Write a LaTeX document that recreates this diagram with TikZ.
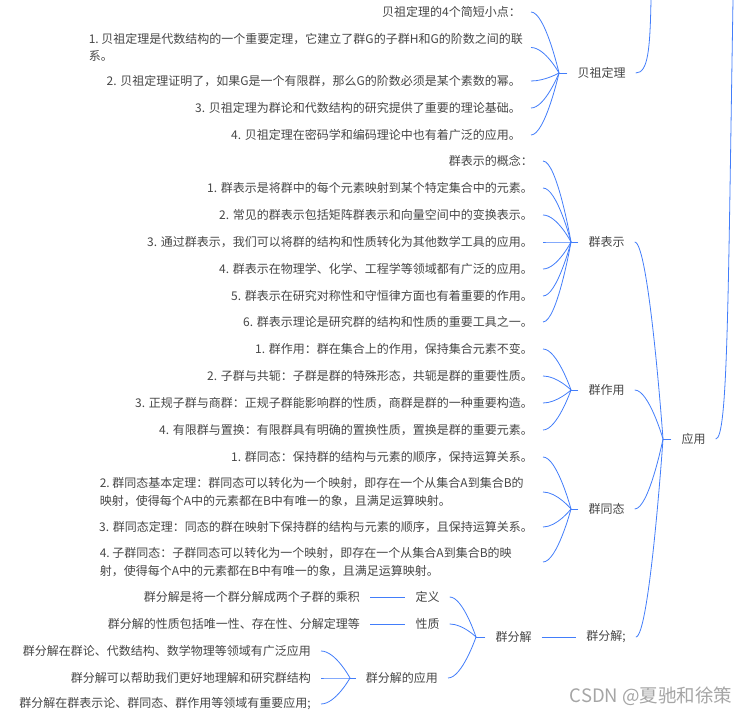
\documentclass[tikz,border=0pt]{standalone}
\usepackage{fontspec}
\setmainfont{Noto Sans CJK SC}
\usetikzlibrary{calc}
\definecolor{lineblue}{RGB}{66,125,250}
\definecolor{txtgray}{RGB}{70,70,70}
\definecolor{wmgray}{RGB}{165,165,165}
\newcommand\brconn[2]{\draw[conn] let \p1=(#1), \p2=(#2) in (\p1) .. controls ({0.5*\x1+0.5*\x2},\y1) and (\p2) .. (\p2);}
\begin{document}
\begin{tikzpicture}[x=1pt,y=-1pt,
  txt/.style={font=\fontsize{12}{17.5}\selectfont, text=txtgray, inner xsep=10pt, inner ysep=2pt},
  leaf/.style={txt, anchor=east},
  multi/.style={txt, anchor=east, align=left, text width=#1},
  conn/.style={draw=lineblue, line width=0.8pt},
  wmark/.style={font=\fontsize{18.5}{20}\selectfont, text=wmgray, inner sep=0pt}]
\useasboundingbox (0,0) rectangle (752,719);

% ---------- 贝祖定理 ----------
\node[txt] (BZ) at (601.5,73) {贝祖定理};
\coordinate (jBZ) at (559,73);
\coordinate (tBZ) at (651,0);
\node[leaf] (b0) at (531,12) {贝祖定理的4个简短小点：};
\node[multi=432pt] (b1) at (531,47.5) {1.\kern2.7pt贝祖定理是代数结构的一个重要定理，它建立了群G的子群H和G的阶数之间的联\\系。};
\node[leaf] (b2) at (531,81) {2. 贝祖定理证明了，如果G是一个有限群，那么G的阶数必须是某个素数的幂。};
\node[leaf] (b3) at (531,108) {3. 贝祖定理为群论和代数结构的研究提供了重要的理论基础。};
\node[leaf] (b4) at (531,135) {4. 贝祖定理在密码学和编码理论中也有着广泛的应用。};
\draw[conn] (BZ.west) -- (jBZ);
\foreach \nd in {b0,b1,b2,b3,b4}{\brconn{\nd.east}{jBZ}}
\draw[conn] (BZ.east) .. controls (648,73) and (650,50) .. (tBZ);

% ---------- 应用 ----------
\node[txt] (YY) at (693.5,439) {应用};
\coordinate (jYY) at (663,439);
\coordinate (tYY) at (733,0);
\draw[conn] (YY.west) -- (jYY);
\draw[conn] (YY.east) .. controls (728,439) and (728,300) .. (tYY);

% ---------- 群表示 ----------
\node[txt] (QBS) at (606.5,242) {群表示};
\coordinate (jQBS) at (571,242);
\node[leaf] (r0) at (543,161) {群表示的概念：};
\node[leaf] (r1) at (543,188) {1. 群表示是将群中的每个元素映射到某个特定集合中的元素。};
\node[leaf] (r2) at (543,215) {2. 常见的群表示包括矩阵群表示和向量空间中的变换表示。};
\node[leaf] (r3) at (543,242) {3. 通过群表示，我们可以将群的结构和性质转化为其他数学工具的应用。};
\node[leaf] (r4) at (543,269) {4. 群表示在物理学、化学、工程学等领域都有广泛的应用。};
\node[leaf] (r5) at (543,296) {5. 群表示在研究对称性和守恒律方面也有着重要的作用。};
\node[leaf] (r6) at (543,322) {6. 群表示理论是研究群的结构和性质的重要工具之一。};
\draw[conn] (QBS.west) -- (jQBS);
\foreach \nd in {r0,r1,r2,r3,r4,r5,r6}{\brconn{\nd.east}{jQBS}}

% ---------- 群作用 ----------
\node[txt] (QZY) at (606.5,390) {群作用};
\coordinate (jQZY) at (571,390);
\node[leaf] (a1) at (543,349) {1. 群作用：群在集合上的作用，保持集合元素不变。};
\node[leaf] (a2) at (543,376) {2. 子群与共轭：子群是群的特殊形态，共轭是群的重要性质。};
\node[leaf] (a3) at (543,403) {3. 正规子群与商群：正规子群能影响群的性质，商群是群的一种重要构造。};
\node[leaf] (a4) at (543,430) {4. 有限群与置换：有限群具有明确的置换性质，置换是群的重要元素。};
\draw[conn] (QZY.west) -- (jQZY);
\foreach \nd in {a1,a2,a3,a4}{\brconn{\nd.east}{jQZY}}

% ---------- 群同态 ----------
\node[txt] (QTT) at (606.5,509) {群同态};
\coordinate (jQTT) at (571,509);
\node[leaf] (h1) at (543,457) {1. 群同态：保持群的结构与元素的顺序，保持运算关系。};
\node[multi=433pt] (h2) at (543,492) {2.\kern2.7pt群同态基本定理：群同态可以转化为一个映射，即存在一个从集合A到集合B的\\映射，使得每个A中的元素都在B中有唯一的象，且满足运算映射。};
\node[leaf] (h3) at (543,527) {3. 群同态定理：同态的群在映射下保持群的结构与元素的顺序，且保持运算关系。};
\node[multi=433pt] (h4) at (543,562) {4.\kern2.7pt子群同态：子群同态可以转化为一个映射，即存在一个从集合A到集合B的映\\射，使得每个A中的元素都在B中有唯一的象，且满足运算映射。};
\draw[conn] (QTT.west) -- (jQTT);
\foreach \nd in {h1,h2,h3,h4}{\brconn{\nd.east}{jQTT}}

% ---------- 群分解 ----------
\node[txt] (FJs) at (606,637) {群分解;};
\node[txt] (FJ) at (513.5,637) {群分解};
\coordinate (jFJ) at (476,637);
\node[txt] (DY) at (427.5,597) {定义};
\node[txt] (XZ) at (427.5,624) {性质};
\node[txt, anchor=east] (FJA) at (448,678) {群分解的应用};
\coordinate (jFJA) at (350,678);
\node[leaf] (d1) at (370,597) {群分解是将一个群分解成两个子群的乘积};
\node[leaf] (p1) at (370,624) {群分解的性质包括唯一性、存在性、分解定理等};
\node[leaf] (u1) at (321,651) {群分解在群论、代数结构、数学物理等领域有广泛应用};
\node[leaf] (u2) at (321,678) {群分解可以帮助我们更好地理解和研究群结构};
\node[leaf] (u3) at (321,704) {群分解在群表示论、群同态、群作用等领域有重要应用;};
\draw[conn] (FJ.east) -- (FJs.west);
\draw[conn] (FJ.west) -- (jFJ);
\foreach \nd in {DY,XZ,FJA}{\brconn{\nd.east}{jFJ}}
\draw[conn] (d1.east) -- (DY.west);
\draw[conn] (p1.east) -- (XZ.west);
\draw[conn] (FJA.west) -- (jFJA);
\foreach \nd in {u1,u2,u3}{\brconn{\nd.east}{jFJA}}

% ---------- 应用 children ----------
\foreach \nd in {QBS,QZY,QTT,FJs}{\brconn{\nd.east}{jYY}}

% watermark
\node[wmark] (wm) at (651,696) {CSDN @夏驰和徐策};
\end{tikzpicture}
\end{document}
